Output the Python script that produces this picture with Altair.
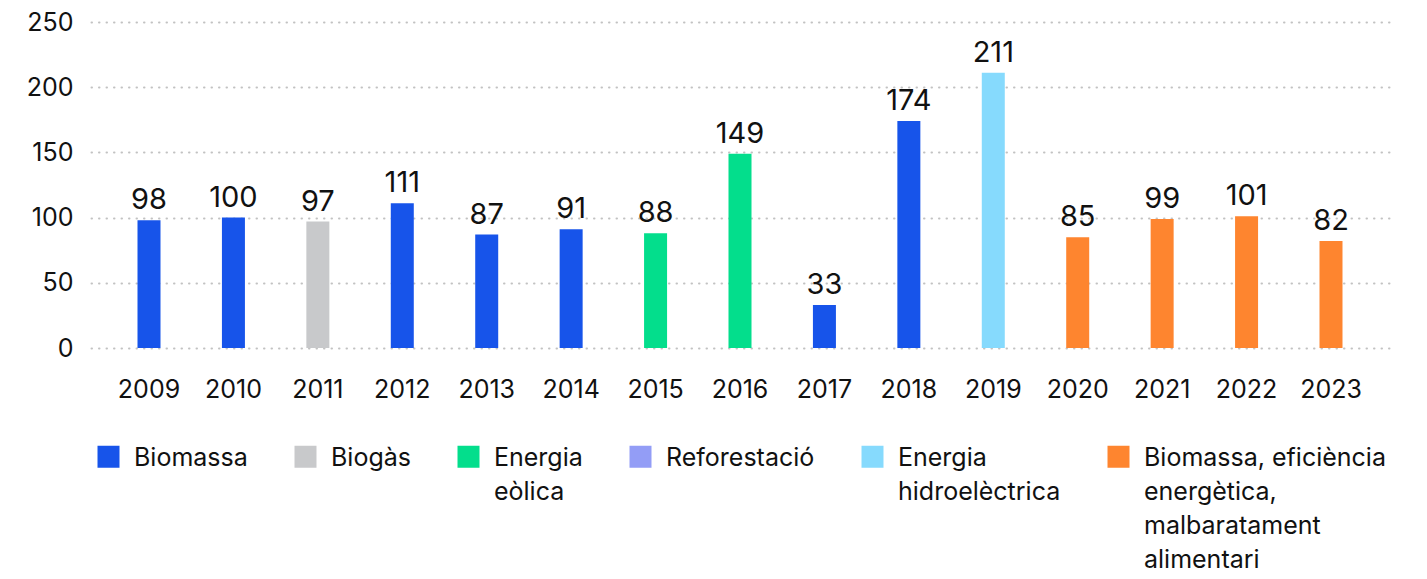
import altair as alt
import pandas as pd

years = ["2009", "2010", "2011", "2012", "2013", "2014", "2015", "2016",
         "2017", "2018", "2019", "2020", "2021", "2022", "2023"]
values = [98, 100, 97, 111, 87, 91, 88, 149, 33, 174, 211, 85, 99, 101, 82]
sources = ["Biomassa", "Biomassa", "Biogàs", "Biomassa", "Biomassa", "Biomassa",
           "Energia eòlica", "Energia eòlica", "Biomassa", "Biomassa",
           "Energia hidroelèctrica",
           "Biomassa, eficiència energètica, malbaratament alimentari",
           "Biomassa, eficiència energètica, malbaratament alimentari",
           "Biomassa, eficiència energètica, malbaratament alimentari",
           "Biomassa, eficiència energètica, malbaratament alimentari"]

categories = ["Biomassa", "Biogàs", "Energia eòlica", "Reforestació",
              "Energia hidroelèctrica",
              "Biomassa, eficiència energètica, malbaratament alimentari"]
colors = ["#1754EA", "#C8C9CB", "#03DE8C", "#939DF6", "#86DAFD", "#FE852F"]
legend_lines = [["Biomassa"], ["Biogàs"], ["Energia", "eòlica"], ["Reforestació"],
                ["Energia", "hidroelèctrica"],
                ["Biomassa, eficiència", "energètica,", "malbaratament", "alimentari"]]

df = pd.DataFrame({"year": years, "value": values, "source": sources})

# every legend label gets the same number of lines so that all entries share a top line
n_lines = max(len(l) for l in legend_lines)
label_expr = "datum.label"
for cat, lines in reversed(list(zip(categories, legend_lines))):
    padded = lines + [""] * (n_lines - len(lines))
    arr = "[" + ",".join("'" + l + "'" for l in padded) + "]"
    label_expr = f"datum.label == '{cat}' ? {arr} : ({label_expr})"

FONT = "Inter"
INK = "#111111"

base = alt.Chart(df).encode(
    x=alt.X("year:N", sort=years,
            scale=alt.Scale(paddingInner=0, paddingOuter=0.187),
            axis=alt.Axis(title=None, labelAngle=0, labelFontSize=25,
                          labelPadding=29, ticks=False, domain=False, grid=False,
                          labelColor=INK, labelFont=FONT)),
    y=alt.Y("value:Q", scale=alt.Scale(domain=[0, 250]),
            axis=alt.Axis(title=None, values=[0, 50, 100, 150, 200, 250],
                          labelFontSize=25, labelPadding=18, ticks=False,
                          tickSize=0, domain=False, labelColor=INK,
                          labelFont=FONT, grid=True, gridColor="#c2c2c2",
                          gridDash=[0.5, 7], gridWidth=2, gridCap="round")),
)

bars = base.mark_bar(size=23).encode(
    color=alt.Color("source:N",
                    scale=alt.Scale(domain=categories, range=colors),
                    legend=alt.Legend(title=None, orient="none", legendX=5,
                                      legendY=411, direction="horizontal",
                                      columns=6, columnPadding=45,
                                      symbolType="M-1,0H1V2H-1Z",
                                      symbolSize=484, symbolStrokeWidth=0,
                                      symbolOpacity=1,
                                      labelFontSize=25, labelFont=FONT,
                                      labelColor=INK, labelOffset=13,
                                      labelBaseline="top", labelLimit=400,
                                      labelExpr=label_expr, padding=0))
)

labels = base.mark_text(baseline="alphabetic", dy=-11, fontSize=29,
                        font=FONT, color=INK).encode(text="value:Q")

chart = (bars + labels).properties(
    width=1298, height=326, padding={"left": 18, "top": 2, "right": 5, "bottom": 5}
).configure(
    style={"guide-label": {"lineHeight": 34}}
).configure_view(stroke=None)

chart.save("out.html", embed_options={"renderer": "svg", "actions": False})
